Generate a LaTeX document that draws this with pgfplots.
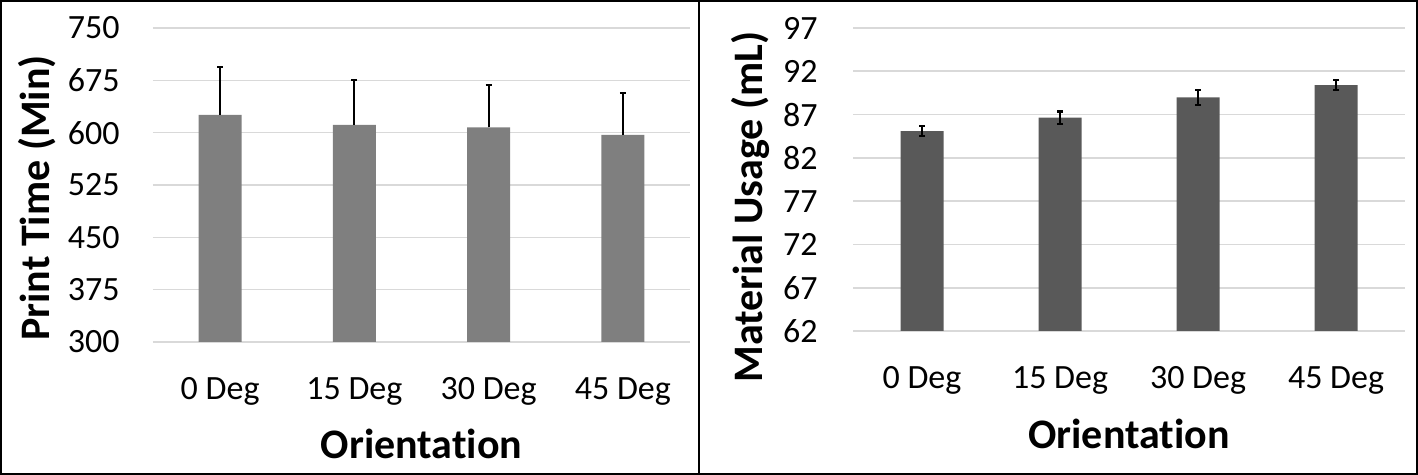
\documentclass[border=0pt]{standalone}
\usepackage{pgfplots}
\pgfplotsset{compat=1.18}
\usepackage{fontspec}
\setmainfont{Carlito}[Ligatures=NoCommon]

\definecolor{barA}{HTML}{7F7F7F}
\definecolor{barB}{HTML}{595959}
\definecolor{gridc}{HTML}{D9D9D9}

\pgfplotsset{
  panel/.style={
    scale only axis,
    anchor=south west,
    ybar,
    bar width=21.5pt,
    xmin=-0.5, xmax=3.5,
    xtick=data,
    xticklabels={0 Deg,15 Deg,30 Deg,45 Deg},
    axis line style={draw=none},
    major tick length=0pt,
    ymajorgrids,
    grid style={gridc, line width=0.8pt},
    tick label style={font=\fontsize{17}{20}\selectfont},
    xticklabel style={anchor=base, yshift=-29pt},
    label style={font=\fontsize{21}{25}\selectfont\bfseries},
    /pgf/number format/assume math mode=true,
  },
}

\begin{document}
\begin{tikzpicture}
  % panel frames
  \draw[line width=1.2pt] (0.6pt,0.6pt) rectangle (349.5pt,236.9pt);
  \draw[line width=1.2pt] (349.5pt,0.6pt) rectangle (708.4pt,236.9pt);

  \begin{axis}[
    panel,
    at={(76.5pt,66.5pt)},
    width=268.5pt, height=157pt,
    ymin=300, ymax=750,
    ytick={300,375,...,750},
    yticklabel style={anchor=east, inner sep=0pt, xshift=-16.5pt},
    ylabel={Print Time (Min)},
    ylabel style={at={(axis description cs:-0.216,0.459)}, anchor=center},
    xlabel={Orientation},
    xlabel style={at={(axis description cs:0.5,0)}, anchor=base, yshift=-58.5pt},
  ]
    \addplot[fill=barA, draw=none,
      error bars/.cd, y dir=plus, y explicit,
      error bar style={line width=1.1pt, black},
      error mark options={rotate=90, mark size=1.5pt, line width=1.1pt, black}]
      table[x=x, y=y, y error=e] {
        x y     e
        0 625.6 69
        1 611.0 64.5
        2 607.6 61
        3 597.0 59.5
      };
  \end{axis}

  \begin{axis}[
    panel,
    at={(426.5pt,72pt)},
    width=276pt, height=151.5pt,
    ymin=62, ymax=97,
    ytick={62,67,...,97},
    yticklabel style={anchor=east, inner sep=0pt, xshift=-17.5pt},
    ylabel={Material Usage (mL)},
    ylabel style={at={(axis description cs:-0.1866,0.409)}, anchor=center},
    xlabel={Orientation},
    xlabel style={at={(axis description cs:0.5,0)}, anchor=base, yshift=-59pt},
  ]
    \addplot[fill=barB, draw=none,
      error bars/.cd, y dir=both, y explicit,
      error bar style={line width=1.1pt, black},
      error mark options={rotate=90, mark size=1.5pt, line width=1.1pt, black}]
      table[x=x, y=y, y error=e] {
        x y     e
        0 85.1  0.6
        1 86.65 0.7
        2 89.0  0.85
        3 90.4  0.6
      };
  \end{axis}
\end{tikzpicture}
\end{document}
